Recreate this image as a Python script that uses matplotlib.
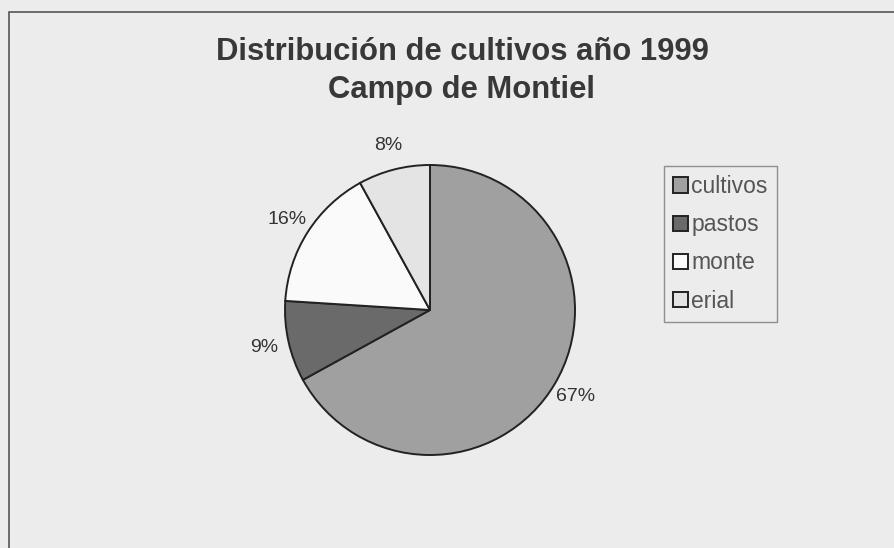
import matplotlib
matplotlib.use('Agg')
import matplotlib.pyplot as plt
from matplotlib.patches import Rectangle

categories = ['cultivos', 'pastos', 'monte', 'erial']
values = [67, 9, 16, 8]
colors = ['#a0a0a0', '#6a6a6a', '#fafafa', '#e4e4e4']
title = 'Distribución de cultivos año 1999\nCampo de Montiel'


def main():
    plt.rcParams['font.family'] = ['Liberation Sans', 'DejaVu Sans']

    W, H = 894, 548
    fig = plt.figure(figsize=(W / 100, H / 100), dpi=100, facecolor='#ececec')

    # outer chart frame (runs off the right and bottom of the scan)
    fig.patches.append(Rectangle((9 / W, -0.05), 1.1, 1 - 12 / H + 0.05,
                                 transform=fig.transFigure, fill=False,
                                 edgecolor='#555555', linewidth=1.2))

    # pie: centre (430, 310) px, radius 145 px
    cx, cy, r = 430, 310, 145
    ax = fig.add_axes([(cx - r) / W, (H - cy - r) / H, 2 * r / W, 2 * r / H])
    labels = ['{}%'.format(v) for v in values]
    wedges, texts = ax.pie(values, labels=labels, colors=colors, startangle=90,
                           counterclock=False, labeldistance=1.17,
                           wedgeprops=dict(edgecolor='#222222', linewidth=1.4),
                           textprops=dict(fontsize=14, color='#333333'))
    for t in texts:
        t.set_ha('center')
    ax.set_xlim(-1, 1)
    ax.set_ylim(-1, 1)
    ax.set_aspect('equal')
    ax.axis('off')

    fig.text(462 / W, 1 - 71 / H, title, ha='center', va='center',
             fontsize=22.3, fontweight='bold', color='#383838', linespacing=1.38)

    leg = fig.legend(wedges, categories, loc='upper left',
                     bbox_to_anchor=(664 / W, 1 - 166 / H),
                     fontsize=16.5, frameon=True, fancybox=False,
                     handlelength=0.65, handleheight=0.65, handletextpad=0.15,
                     labelspacing=0.66, borderpad=0.4, borderaxespad=0,
                     labelcolor='#555555')
    leg.get_frame().set_edgecolor('#777777')
    leg.get_frame().set_facecolor('#ececec')
    leg.get_frame().set_linewidth(1.0)

    plt.savefig('out.png', dpi=100, facecolor=fig.get_facecolor())
    plt.close()

    return


if __name__ == '__main__':
    main()
